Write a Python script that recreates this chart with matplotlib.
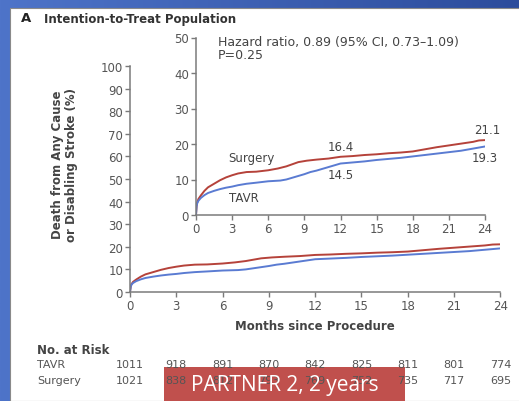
import numpy as np
import matplotlib
matplotlib.use("Agg")
import matplotlib.pyplot as plt
from matplotlib.patches import Rectangle
from matplotlib.transforms import blended_transform_factory

plt.rcParams["font.family"] = ["DejaVu Sans"]

# Kaplan-Meier estimates, death from any cause or disabling stroke (%)
months_surgery = [0, 0.05, 0.1, 0.2, 0.4, 0.7, 1.0, 1.5, 2.0, 2.5, 3.0, 3.5, 4.2, 5.0,
                  6.0, 6.8, 7.5, 8.0, 8.5, 9.2, 10.0, 11.0, 12.0, 13.0, 14.0, 15.0,
                  16.0, 17.0, 18.0, 19.0, 20.0, 21.0, 22.0, 23.0, 23.5, 24.0]
pct_surgery = [0, 2.5, 3.5, 4.5, 5.5, 6.8, 7.8, 8.8, 9.8, 10.6, 11.2, 11.7, 12.1, 12.2,
               12.6, 13.1, 13.7, 14.3, 14.9, 15.3, 15.6, 15.9, 16.4, 16.6, 16.9, 17.1,
               17.4, 17.6, 17.9, 18.5, 19.1, 19.6, 20.1, 20.6, 21.0, 21.1]

months_tavr = [0, 0.05, 0.1, 0.2, 0.4, 0.7, 1.0, 1.5, 2.0, 2.5, 3.0, 3.5, 4.2, 5.0,
               6.0, 7.0, 7.5, 8.0, 8.5, 9.0, 9.5, 10.0, 11.0, 12.0, 13.0, 14.0,
               15.0, 16.0, 17.0, 18.0, 19.0, 20.0, 21.0, 22.0, 23.0, 24.0]
pct_tavr = [0, 2.5, 3.3, 4.0, 4.8, 5.6, 6.2, 6.8, 7.3, 7.7, 8.0, 8.4, 8.8, 9.1,
            9.5, 9.7, 10.0, 10.5, 11.0, 11.5, 12.1, 12.5, 13.5, 14.5, 14.8, 15.1,
            15.5, 15.8, 16.1, 16.5, 16.9, 17.3, 17.7, 18.1, 18.7, 19.3]

risk_months = [0, 3, 6, 9, 12, 15, 18, 21, 24]
risk_tavr = [1011, 918, 891, 870, 842, 825, 811, 801, 774]
risk_surgery = [1021, 838, 812, 793, 769, 752, 735, 717, 695]

RED = "#B5423A"
BLUE = "#5A7BD2"
SPINE = "#7a7a7a"
TXT = "#444444"
FS = 8.5

W, H = 519, 402
fig = plt.figure(figsize=(W / 100, H / 100), dpi=100)

# slide background: blue gradient with a white panel
bg = fig.add_axes([0, 0, 1, 1], zorder=-10)
grad = np.linspace(0, 1, 256)[None, :]
bg.imshow(grad, aspect="auto", extent=[0, 1, 0, 1],
          cmap=matplotlib.colors.LinearSegmentedColormap.from_list("b", ["#4E74C9", "#2C4C9C"]))
bg.add_patch(Rectangle((10 / W, 0), 1, 1 - 9 / H, facecolor="white",
                       edgecolor="#8a8a8a", linewidth=0.8))
bg.set_xlim(0, 1)
bg.set_ylim(0, 1)
bg.axis("off")


def style_axes(ax, ymax, ystep):
    for s in ("top", "right"):
        ax.spines[s].set_visible(False)
    for s in ("left", "bottom"):
        ax.spines[s].set_color(SPINE)
        ax.spines[s].set_linewidth(1.1)
    ax.set_xlim(0, 24)
    ax.set_ylim(0, ymax)
    ax.set_xticks(range(0, 25, 3))
    ax.set_yticks(range(0, ymax + 1, ystep))
    ax.tick_params(colors=SPINE, labelcolor="#555555", labelsize=FS,
                   length=3.5, width=1.0, pad=1.5)
    ax.set_facecolor("none")


# main panel
ax = fig.add_axes([130 / W, 1 - 293 / H, 370.4 / W, 226 / H])
style_axes(ax, 100, 10)
ax.plot(months_surgery, pct_surgery, color=RED, lw=1.4)
ax.plot(months_tavr, pct_tavr, color=BLUE, lw=1.4)
ax.set_xlabel("Months since Procedure", fontsize=FS, fontweight="bold",
              color=TXT, labelpad=5)
fig.text(65 / W, 1 - 165 / H, "Death from Any Cause\nor Disabling Stroke (%)",
         rotation=90, ha="center", va="center", fontsize=FS, fontweight="bold",
         color=TXT, linespacing=1.1)

# inset with expanded y scale
ins = fig.add_axes([196 / W, 1 - 216 / H, 289 / W, 177.5 / H])
style_axes(ins, 50, 10)
ins.plot(months_surgery, pct_surgery, color=RED, lw=1.4)
ins.plot(months_tavr, pct_tavr, color=BLUE, lw=1.4)
ins.text(1.8, 50.8, "Hazard ratio, 0.89 (95% CI, 0.73\u20131.09)\nP=0.25",
         fontsize=9, color=TXT, va="top", ha="left", linespacing=1.05)
ins.text(2.7, 16.3, "Surgery", fontsize=FS, color=TXT, va="center")
ins.text(2.7, 4.8, "TAVR", fontsize=FS, color=TXT, va="center")
ins.text(12.0, pct_surgery[22] + 2.8, f"{pct_surgery[22]:.1f}", fontsize=FS,
         color=TXT, ha="center", va="center")
ins.text(12.0, pct_tavr[23] - 3.2, f"{pct_tavr[23]:.1f}", fontsize=FS,
         color=TXT, ha="center", va="center")
ins.text(24.2, pct_surgery[-1] + 3.1, f"{pct_surgery[-1]:.1f}", fontsize=FS,
         color=TXT, ha="center", va="center")
ins.text(24.0, pct_tavr[-1] - 3.0, f"{pct_tavr[-1]:.1f}", fontsize=FS,
         color=TXT, ha="center", va="center")

fig.text(21 / W, 1 - 19 / H, "A", fontsize=9.5, fontweight="bold", color="#222222",
         va="center")
fig.text(44 / W, 1 - 19 / H, "Intention-to-Treat Population", fontsize=FS,
         fontweight="bold", color="#333333", va="center")

# numbers at risk
tr = blended_transform_factory(ax.transData, fig.transFigure)
fig.text(37 / W, 1 - 351 / H, "No. at Risk", fontsize=FS, fontweight="bold",
         color=TXT, va="center")
for y, name, counts in [(365, "TAVR", risk_tavr), (381, "Surgery", risk_surgery)]:
    fig.text(37 / W, 1 - y / H, name, fontsize=8, color="#555555", va="center")
    for m, n in zip(risk_months, counts):
        ax.text(m, 1 - y / H, str(n), transform=tr, fontsize=8, color="#555555",
                ha="center", va="center")

# caption box
bg.add_patch(Rectangle((164 / W, 0), 241 / W, 34 / H, facecolor="#C0504D",
                       edgecolor="none", zorder=5))
fig.text(285 / W, 1 - 386 / H, "PARTNER 2, 2 years", fontsize=15, color="white",
         ha="center", va="center", family=["Open Sans", "DejaVu Sans"], zorder=6)

fig.savefig("out.png", dpi=100)
